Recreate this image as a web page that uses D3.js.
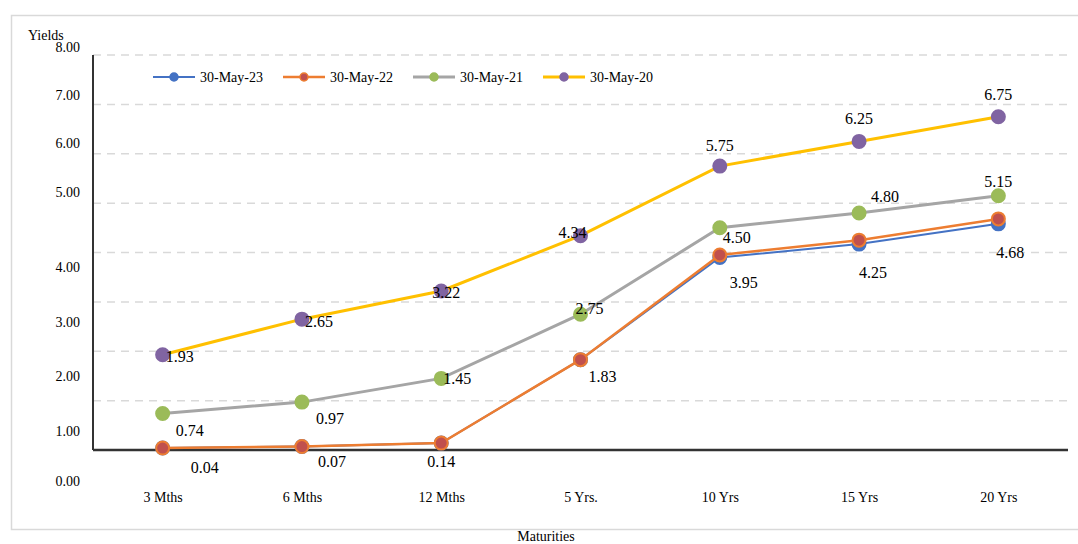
<!DOCTYPE html>
<html>
<head>
<meta charset="utf-8">
<script src="https://cdn.jsdelivr.net/npm/d3@7"></script>
<style>
  body { margin: 0; background: #fff; }
</style>
</head>
<body>
<svg width="1078" height="544"></svg>
<script>
// chart data
var maturities = ["3 Mths", "6 Mths", "12 Mths", "5 Yrs.", "10 Yrs", "15 Yrs", "20 Yrs"];
var seriesNames = ["30-May-23", "30-May-22", "30-May-21", "30-May-20"];
var may23 = [0.04, 0.07, 0.14, 1.83, 3.90, 4.17, 4.58];
var may22 = [0.04, 0.07, 0.14, 1.83, 3.95, 4.25, 4.68];
var may21 = [0.74, 0.97, 1.45, 2.75, 4.50, 4.80, 5.15];
var may20 = [1.93, 2.65, 3.22, 4.34, 5.75, 6.25, 6.75];
var yTicks = [0, 1, 2, 3, 4, 5, 6, 7, 8];

var serif = "'Liberation Serif', 'Times New Roman', 'DejaVu Serif', serif";

var svg = d3.select("svg").style("font-family", serif);

// plot area
var plotLeft = 93, plotRight = 1068, plotTop = 55, plotBottom = 450;

var x = d3.scalePoint().domain(maturities).range([plotLeft, plotRight]).padding(0.5);
var y = d3.scaleLinear().domain([0, 8]).range([plotBottom, plotTop]);

// the tick labels in the original sit off the gridlines, so they get their own scale
var yLab = d3.scaleLinear().domain([0, 1, 4, 5, 8])
  .range([y(0) + 31, y(1) + 31, y(4) + 15, y(5) - 11, y(8) - 8]);

// outer frame
svg.append("rect")
  .attr("x", 11.5).attr("y", 15.5)
  .attr("width", 1080).attr("height", 514)
  .attr("fill", "none").attr("stroke", "#d9d9d9").attr("stroke-width", 1.5);

// gridlines
svg.append("g").selectAll("line")
  .data(yTicks.filter(function(d) { return d > 0; }))
  .enter().append("line")
  .attr("x1", plotLeft).attr("x2", plotRight)
  .attr("y1", function(d) { return y(d); })
  .attr("y2", function(d) { return y(d); })
  .attr("stroke", "#d9d9d9").attr("stroke-width", 1.5)
  .attr("stroke-dasharray", "8,6");

// y tick labels
svg.append("g").selectAll("text")
  .data(yTicks)
  .enter().append("text")
  .attr("x", 80)
  .attr("y", function(d) { return yLab(d); })
  .attr("text-anchor", "end")
  .attr("dominant-baseline", "central")
  .style("font-family", serif)
  .style("font-size", "14px")
  .text(function(d) { return d3.format(".2f")(d); });

// axis lines
svg.append("line")
  .attr("x1", plotLeft).attr("x2", plotLeft).attr("y1", plotTop).attr("y2", plotBottom)
  .attr("stroke", "#333").attr("stroke-width", 2);
svg.append("line")
  .attr("x1", plotLeft).attr("x2", plotRight).attr("y1", plotBottom).attr("y2", plotBottom)
  .attr("stroke", "#333").attr("stroke-width", 2.5);

// x tick labels
var xAxis = d3.axisBottom(x).tickSize(0).tickPadding(0);
var gx = svg.append("g").attr("transform", "translate(0,492)").call(xAxis);
gx.select(".domain").remove();
gx.selectAll("text").style("font-size", "14px")
  .style("font-family", serif).attr("fill", "#000");

// axis titles
svg.append("text").attr("x", 28).attr("y", 40)
  .style("font-family", serif).style("font-size", "14px").text("Yields");
svg.append("text").attr("x", 546).attr("y", 541).attr("text-anchor", "middle")
  .style("font-family", serif).style("font-size", "14px").text("Maturities");

// series
var series = [
  { name: seriesNames[0], values: may23, line: "#4472C4", fill: "#4472C4", ring: "#4472C4", width: 2 },
  { name: seriesNames[1], values: may22, line: "#ED7D31", fill: "#C0504D", ring: "#ED7D31", width: 2.5 },
  { name: seriesNames[2], values: may21, line: "#A5A5A5", fill: "#9BBB59", ring: "#9BBB59", width: 3 },
  { name: seriesNames[3], values: may20, line: "#FFC000", fill: "#8064A2", ring: "#8064A2", width: 3 }
];

var line = d3.line()
  .x(function(d, i) { return x(maturities[i]); })
  .y(function(d) { return y(d); });

series.forEach(function(s) {
  var g = svg.append("g");
  g.append("path")
    .attr("d", line(s.values))
    .attr("fill", "none")
    .attr("stroke", s.line)
    .attr("stroke-width", s.width);
  g.selectAll("circle")
    .data(s.values)
    .enter().append("circle")
    .attr("cx", function(d, i) { return x(maturities[i]); })
    .attr("cy", function(d) { return y(d); })
    .attr("r", 6.5)
    .attr("fill", s.fill)
    .attr("stroke", s.ring)
    .attr("stroke-width", 2);
});

// data labels (offsets copy the hand placed labels of the original)
var labelSets = [
  { values: may22, off: [[42, 19], [30, 15], [0, 18], [22, 17], [24, 28], [14, 32], [12, 34]] },
  { values: may21, off: [[27, 17], [28, 16], [16, 0], [9, -6], [17, 10], [26, -17], [0, -14]] },
  { values: may20, off: [[17, 2], [17, 2], [5, 1], [-8, -3], [0, -21], [0, -23], [0, -22]] }
];

labelSets.forEach(function(ls) {
  svg.append("g").selectAll("text")
    .data(ls.values)
    .enter().append("text")
    .attr("x", function(d, i) { return x(maturities[i]) + ls.off[i][0]; })
    .attr("y", function(d, i) { return y(d) + ls.off[i][1]; })
    .attr("text-anchor", "middle")
    .attr("dominant-baseline", "central")
    .style("font-family", serif)
    .style("font-size", "16px")
    .text(function(d) { return d3.format(".2f")(d); });
});

// legend
var legend = svg.append("g").selectAll("g")
  .data(series)
  .enter().append("g")
  .attr("transform", function(d, i) { return "translate(" + (153 + i * 130) + ",77)"; });

legend.append("line")
  .attr("x1", 0).attr("x2", 42)
  .attr("stroke", function(d) { return d.line; })
  .attr("stroke-width", function(d) { return d.width; });
legend.append("circle")
  .attr("cx", 21).attr("r", 4)
  .attr("fill", function(d) { return d.fill; })
  .attr("stroke", function(d) { return d.ring; })
  .attr("stroke-width", 1.5);
legend.append("text")
  .attr("x", 47).attr("dominant-baseline", "central")
  .style("font-family", serif)
  .style("font-size", "14px")
  .text(function(d) { return d.name; });
</script>
</body>
</html>
